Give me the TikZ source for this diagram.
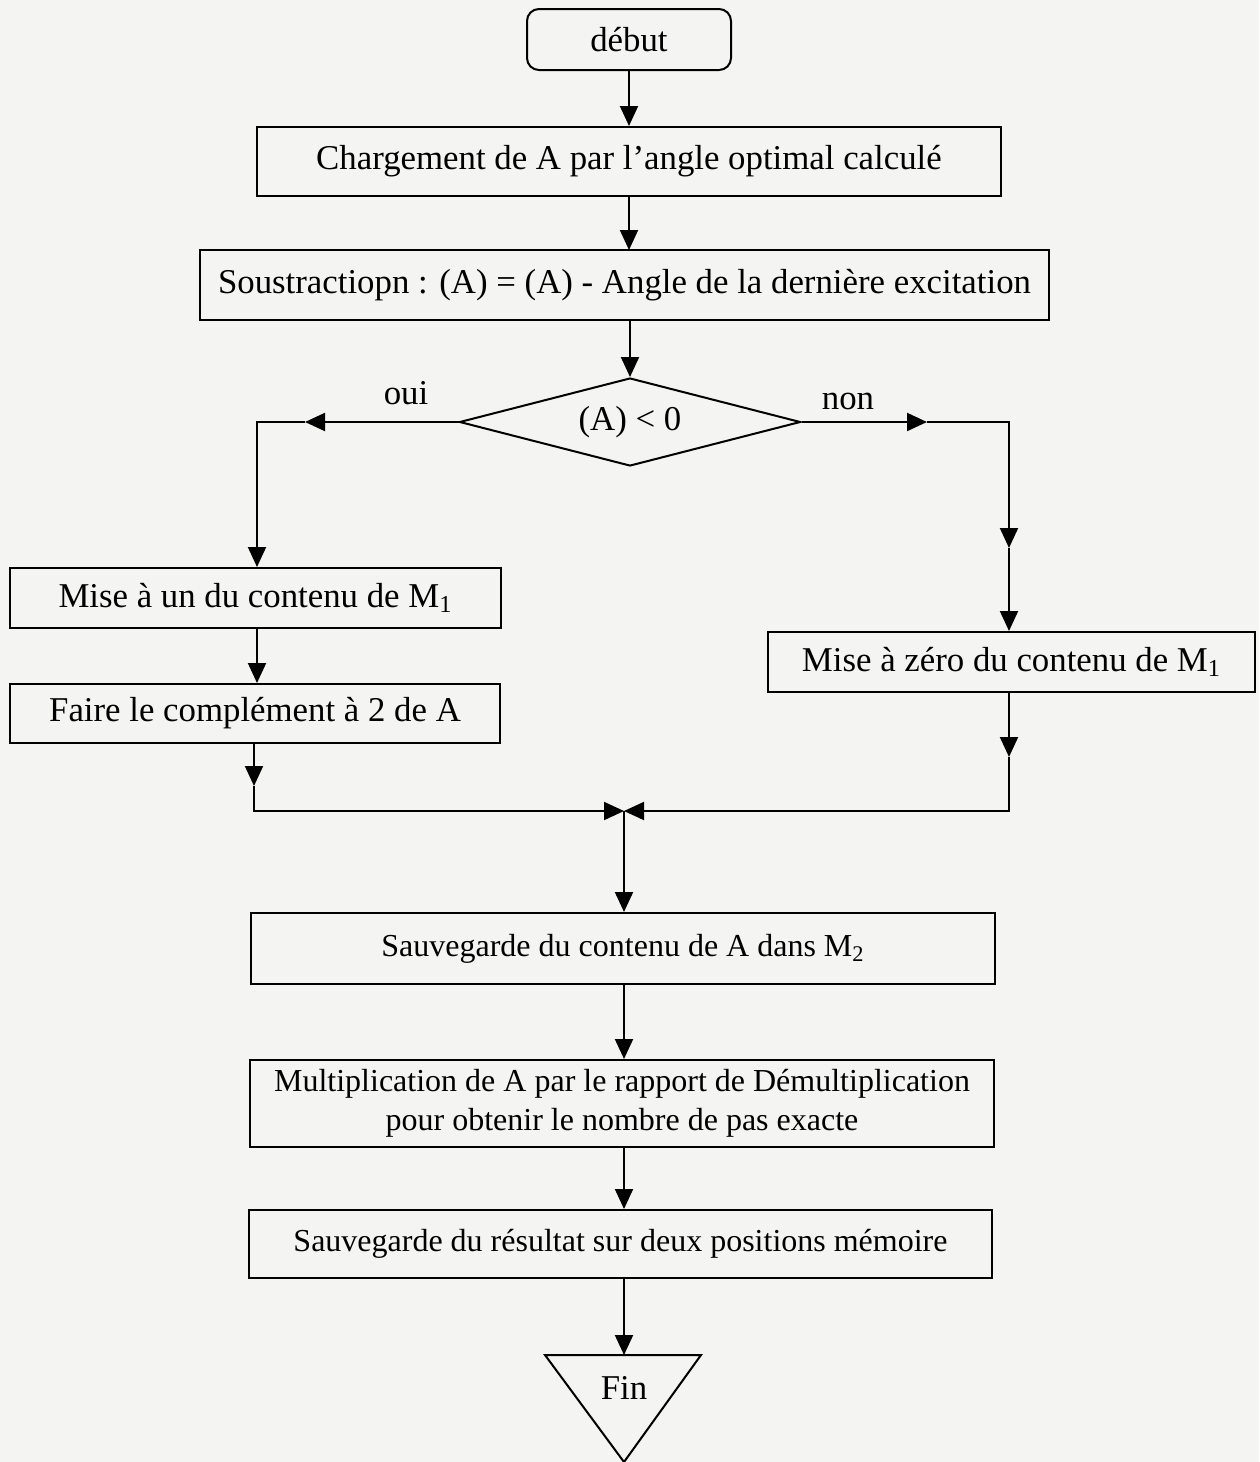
\documentclass[tikz,border=0pt]{standalone}
\usepackage{fontspec}
\setmainfont{Liberation Serif}
\usetikzlibrary{arrows.meta,shapes.geometric}
\definecolor{paper}{RGB}{244,244,242}
\begin{document}
\begin{tikzpicture}[x=0.5pt,y=-0.5pt,
  font=\fontsize{17.4}{20.5}\selectfont,
  line width=1pt,
  tip/.style={-{Triangle[length=10pt,width=9pt]}},
  box/.style={draw,rectangle,inner sep=0pt,align=center},
  smalltext/.style={font=\fontsize{16}{19.5}\selectfont},
  term/.style={draw,rectangle,rounded corners=6pt,inner sep=0pt},
  test/.style={draw,diamond,aspect=3.9,inner sep=0pt,minimum width=170.5pt,minimum height=44pt}]
  % page
  \fill[paper] (0,0) rectangle (1259,1462);
  \useasboundingbox (0,0) rectangle (1259,1462);

  % main column
  \node[term,minimum width=102pt,minimum height=30.5pt] (start) at (629,39.5) {début};
  \node[box,minimum width=372pt,minimum height=34.5pt] (load) at (629,161.5)
    {Chargement de A par l’angle optimal calculé};
  \node[box,minimum width=424.5pt,minimum height=35pt] (sub) at (624.5,285)
    {Soustractiopn : (A) = (A) - Angle de la dernière excitation};
  \node[test] (cmp) at (630,422) {(A) < 0};
  \node (oui) at (406,393) {oui};
  \node (non) at (848,401) {non};

  % negative branch
  \node[box,minimum width=245.5pt,minimum height=30pt] (one) at (255.5,598)
    {Mise à un du contenu de M\textsubscript{1}};
  \node[box,minimum width=245pt,minimum height=29.5pt] (cpl) at (255,713.5)
    {Faire le complément à 2 de A};

  % positive branch
  \node[box,minimum width=243.5pt,minimum height=30pt] (zero) at (1011.5,662)
    {Mise à zéro du contenu de M\textsubscript{1}};

  % after the merge
  \node[box,smalltext,minimum width=372pt,minimum height=35.5pt] (save) at (623,948.5)
    {Sauvegarde du contenu de A dans M\textsubscript{2}};
  \node[box,smalltext,minimum width=372pt,minimum height=43.5pt] (mult) at (622,1103.5)
    {Multiplication de A par le rapport de Démultiplication\\pour obtenir le nombre de pas exacte};
  \node[box,smalltext,minimum width=371.5pt,minimum height=34pt] (res) at (620.5,1244)
    {Sauvegarde du résultat sur deux positions mémoire};

  % end triangle
  \coordinate (finL) at (545,1355);
  \coordinate (finR) at (701,1355);
  \coordinate (finB) at (624,1462);
  \coordinate (fintop) at (624,1355);
  \draw[line join=miter] (finL) -- (finR) -- (finB) -- cycle;
  \node (fin) at (624,1388) {Fin};

  % routing points
  \coordinate (lmid) at (305,422);
  \coordinate (lturn) at (257,422);
  \coordinate (rmid) at (927,422);
  \coordinate (rturn) at (1009,422);
  \coordinate (rdown) at (1009,548);
  \coordinate (ldown) at (254,786);
  \coordinate (lcorner) at (254,811);
  \coordinate (zdown) at (1009,757);
  \coordinate (rcorner) at (1009,811);
  \coordinate (merge) at (624,811);

  % connectors
  \draw[tip] (start) -- (load);
  \draw[tip] (629,196) -- (629,250);
  \draw[tip] (cmp.north |- sub.south) -- (cmp.north);

  \draw[tip] (cmp.west) -- (lmid);
  \draw[tip] (lmid) -- (lturn) -- (lturn |- one.north);
  \draw[tip] (lturn |- one.south) -- (lturn |- cpl.north);
  \draw[tip] (ldown |- cpl.south) -- (ldown);
  \draw[tip] (ldown) -- (lcorner) -- (merge);

  \draw[tip] (cmp.east) -- (rmid);
  \draw[tip] (rmid) -- (rturn) -- (rdown);
  \draw[tip] (rdown) -- (rdown |- zero.north);
  \draw[tip] (zdown |- zero.south) -- (zdown);
  \draw[tip] (zdown) -- (rcorner) -- (merge);

  \draw[tip] (merge) -- (merge |- save.north);
  \draw[tip] (merge |- save.south) -- (merge |- mult.north);
  \draw[tip] (merge |- mult.south) -- (merge |- res.north);
  \draw[tip] (merge |- res.south) -- (fintop);
\end{tikzpicture}
\end{document}
